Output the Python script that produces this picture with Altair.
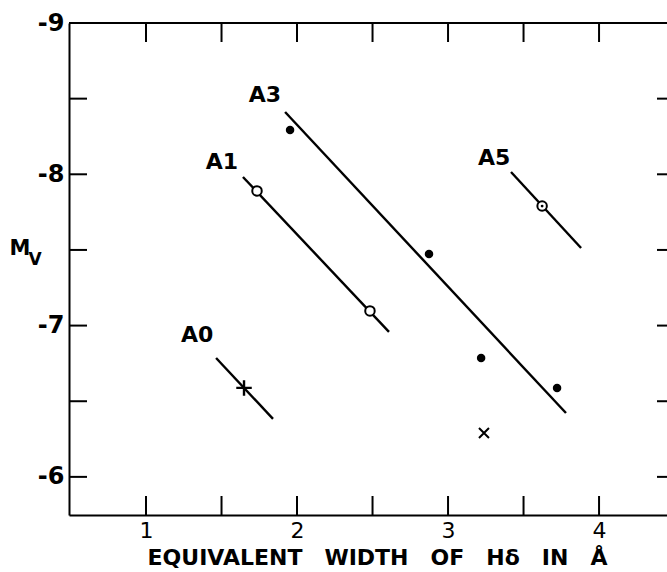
import altair as alt
import pandas as pd

# ---- data ----
line_group = ["A3", "A3", "A1", "A1", "A0", "A0", "A5", "A5"]
line_x = [1.921, 3.781, 1.642, 2.609, 1.464, 1.841, 3.417, 3.881]
line_y = [-8.412, -6.422, -7.982, -6.958, -6.786, -6.383, -8.015, -7.513]

a3_x = [1.954, 2.874, 3.219, 3.722]
a3_y = [-8.293, -7.473, -6.786, -6.588]
a1_x = [1.735, 2.483]
a1_y = [-7.890, -7.097]
a0_x = [1.649]
a0_y = [-6.588]
a5_x = [3.623]
a5_y = [-7.790]
cross_x = [3.238]
cross_y = [-6.290]

label_text = ["A3", "A1", "A0", "A5"]
label_x = [1.788, 1.503, 1.338, 3.305]
label_y = [-8.524, -8.081, -6.941, -8.108]

x_ticks = [1, 1.5, 2, 2.5, 3, 3.5, 4]
x_labels = [1, 2, 3, 4]
y_ticks = [-8.5, -8, -7.5, -7, -6.5, -6]
y_labels = [-9, -8, -7, -6]

W, H = 598, 492
FONT = "DejaVu Sans"
GAP = "\u2003"

xs = alt.Scale(domain=[0.49, 4.45], nice=False, zero=False)
ys = alt.Scale(domain=[-9, -5.748], reverse=True, nice=False, zero=False)

X = alt.X("x:Q", scale=xs, axis=alt.Axis(
    values=x_labels, ticks=False, grid=False, domain=True, domainColor="black",
    domainWidth=2, labelFont=FONT, labelFontSize=22, labelColor="black",
    labelPadding=5, labelFlush=False,
    title=GAP.join(["EQUIVALENT", "WIDTH", "OF", "Hδ", "IN", "Å"]),
    titleFont=FONT, titleFontSize=22, titleFontWeight="bold", titleColor="black",
    titlePadding=6, titleX=308))
Y = alt.Y("y:Q", scale=ys, axis=alt.Axis(
    values=y_labels, ticks=False, grid=False, domain=True, domainColor="black",
    domainWidth=2, labelFont=FONT, labelFontSize=24, labelFontWeight="bold",
    labelColor="black", labelPadding=5, labelFlush=False,
    labelExpr="datum.value < 0 ? '-' + abs(datum.value) : datum.label",
    title=None))

lines_df = pd.DataFrame({"g": line_group, "x": line_x, "y": line_y})
lines = alt.Chart(lines_df).mark_line(color="black", strokeWidth=2.4).encode(
    x=X, y=Y, detail="g:N")

a3 = alt.Chart(pd.DataFrame({"x": a3_x, "y": a3_y})).mark_point(
    shape="circle", filled=True, color="black", size=72, opacity=1).encode(x=X, y=Y)
a1 = alt.Chart(pd.DataFrame({"x": a1_x, "y": a1_y})).mark_point(
    shape="circle", filled=True, fill="white", stroke="black", strokeWidth=2,
    size=90, opacity=1).encode(x=X, y=Y)
a5o = alt.Chart(pd.DataFrame({"x": a5_x, "y": a5_y})).mark_point(
    shape="circle", filled=True, fill="white", stroke="black", strokeWidth=2,
    size=90, opacity=1).encode(x=X, y=Y)
a5d = alt.Chart(pd.DataFrame({"x": a5_x, "y": a5_y})).mark_point(
    shape="circle", filled=True, color="black", size=8, opacity=1).encode(x=X, y=Y)
a0 = alt.Chart(pd.DataFrame({"x": a0_x, "y": a0_y})).mark_point(
    shape="M-1,0L1,0M0,-1L0,1", filled=False, stroke="black", strokeWidth=2.4,
    size=240, opacity=1).encode(x=X, y=Y)
cr = alt.Chart(pd.DataFrame({"x": cross_x, "y": cross_y})).mark_point(
    shape="M-1,-1L1,1M-1,1L1,-1", filled=False, stroke="black", strokeWidth=2,
    size=100, opacity=1).encode(x=X, y=Y)

labels = alt.Chart(pd.DataFrame({"x": label_x, "y": label_y, "t": label_text})).mark_text(
    font=FONT, fontSize=22, fontWeight="bold", color="black").encode(x=X, y=Y, text="t:N")

xt_df = pd.DataFrame({"x": x_ticks})
xt_bottom = alt.Chart(xt_df).mark_rule(color="black", strokeWidth=2).encode(
    x=X, y=alt.value(H), y2=alt.value(H - 19))
xt_top = alt.Chart(xt_df).mark_rule(color="black", strokeWidth=2).encode(
    x=X, y=alt.value(0), y2=alt.value(19))
yt_df = pd.DataFrame({"y": y_ticks})
yt_left = alt.Chart(yt_df).mark_rule(color="black", strokeWidth=2).encode(
    y=Y, x=alt.value(0), x2=alt.value(18))
yt_right = alt.Chart(yt_df).mark_rule(color="black", strokeWidth=2).encode(
    y=Y, x=alt.value(W - 10), x2=alt.value(W))

one = pd.DataFrame({"k": [0]})
top_line = alt.Chart(one).mark_rule(color="black", strokeWidth=2).encode(
    x=alt.value(0), x2=alt.value(W), y=alt.value(0))
m_text = alt.Chart(one).mark_text(
    font=FONT, fontSize=21, fontWeight="bold", color="black").encode(
    x=alt.value(-49), y=alt.value(226), text=alt.value("M"))
v_text = alt.Chart(one).mark_text(
    font=FONT, fontSize=17, fontWeight="bold", color="black").encode(
    x=alt.value(-34), y=alt.value(237), text=alt.value("V"))

chart = alt.layer(
    lines, xt_bottom, xt_top, yt_left, yt_right, top_line,
    a3, a1, a5o, a5d, a0, cr, labels, m_text, v_text
).properties(
    width=W, height=H,
    autosize=alt.AutoSizeParams(type="none"),
    padding={"left": 69, "top": 23, "right": 0, "bottom": 57},
).configure_view(stroke=None).configure(background="white")

chart.save("out.html", embed_options={"renderer": "svg", "actions": False})
